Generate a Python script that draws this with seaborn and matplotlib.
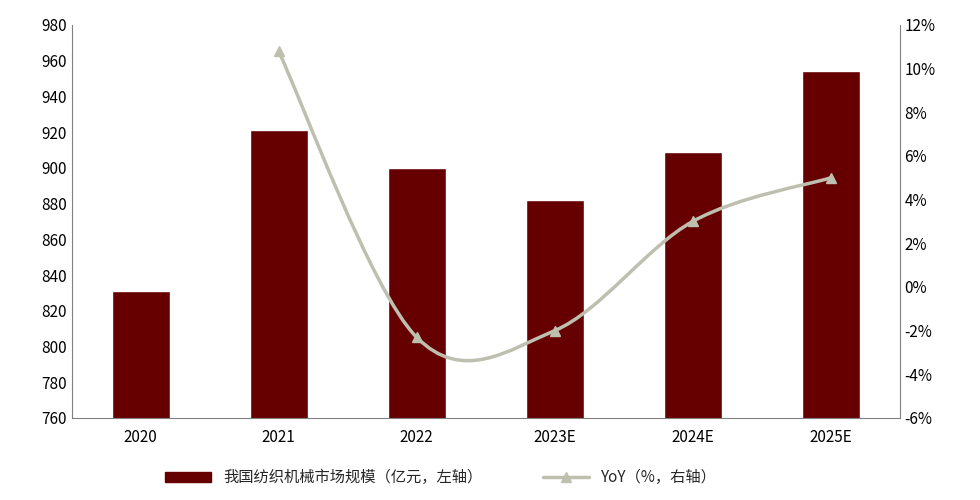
import numpy as np
import pandas as pd
import matplotlib
matplotlib.use("Agg")
import matplotlib.pyplot as plt
from matplotlib.path import Path
from matplotlib.patches import PathPatch
from matplotlib.lines import Line2D
import seaborn as sns

years = ["2020", "2021", "2022", "2023E", "2024E", "2025E"]
market = [831, 921, 900, 882, 909, 954]
yoy_years = ["2021", "2022", "2023E", "2024E", "2025E"]
yoy = [10.8, -2.3, -2.0, 3.0, 5.0]

sns.set_style("white")
plt.rcParams['font.family'] = ['Noto Sans CJK SC', 'DejaVu Sans']

bar_color = "#660000"
line_color = "#BFBFB0"

fig = plt.figure(figsize=(9.8, 5), dpi=100)
ax = fig.add_axes([0.073, 0.164, 0.845, 0.786])

df = pd.DataFrame({"year": years, "market": market})
sns.barplot(data=df, x="year", y="market", color=bar_color, width=0.42,
            saturation=1, ax=ax)
ax.set_ylim(760, 980)
ax.set_yticks(range(760, 981, 20))
ax.set_xlabel("")
ax.set_ylabel("")
ax.set_xlim(-0.5, len(years) - 0.5)

ax2 = ax.twinx()
ax2.set_ylim(-6, 12)
ax2.set_yticks(range(-6, 13, 2))
ax2.set_yticklabels([f"{v}%" for v in range(-6, 13, 2)])

# smoothed line (Catmull-Rom as cubic bezier), markers at the data points
xs = [years.index(y) for y in yoy_years]
pts = np.column_stack([xs, yoy])
verts = [tuple(pts[0])]
codes = [Path.MOVETO]
for i in range(len(pts) - 1):
    p0 = pts[max(i - 1, 0)]
    p1, p2 = pts[i], pts[i + 1]
    p3 = pts[min(i + 2, len(pts) - 1)]
    c1 = p1 + (p2 - p0) / 6
    c2 = p2 - (p3 - p1) / 6
    verts += [tuple(c1), tuple(c2), tuple(p2)]
    codes += [Path.CURVE4] * 3
ax2.add_patch(PathPatch(Path(verts, codes), fill=False, edgecolor=line_color, lw=2.5))
ax2.plot(xs, yoy, linestyle="none", marker="^", color=line_color, markersize=7)

for a in (ax, ax2):
    for s in ["top"]:
        a.spines[s].set_visible(False)
    for s in ["left", "right", "bottom"]:
        a.spines[s].set_color("#808080")
    a.tick_params(labelsize=11, colors="black", length=0)
ax.tick_params(axis="x", pad=8)
ax.spines["right"].set_visible(False)
ax2.spines["left"].set_visible(False)
ax2.spines["bottom"].set_visible(False)

handles = [plt.Rectangle((0, 0), 1, 1, color=bar_color),
           Line2D([0], [0], color=line_color, lw=2.5, marker="^", markersize=7)]
fig.legend(handles, ["我国纺织机械市场规模（亿元，左轴）", "YoY（%，右轴）"],
           loc="lower center", bbox_to_anchor=(0.45, 0.0), ncol=2, frameon=False,
           fontsize=11, columnspacing=4, handlelength=3)

fig.savefig("out.png", dpi=100)
